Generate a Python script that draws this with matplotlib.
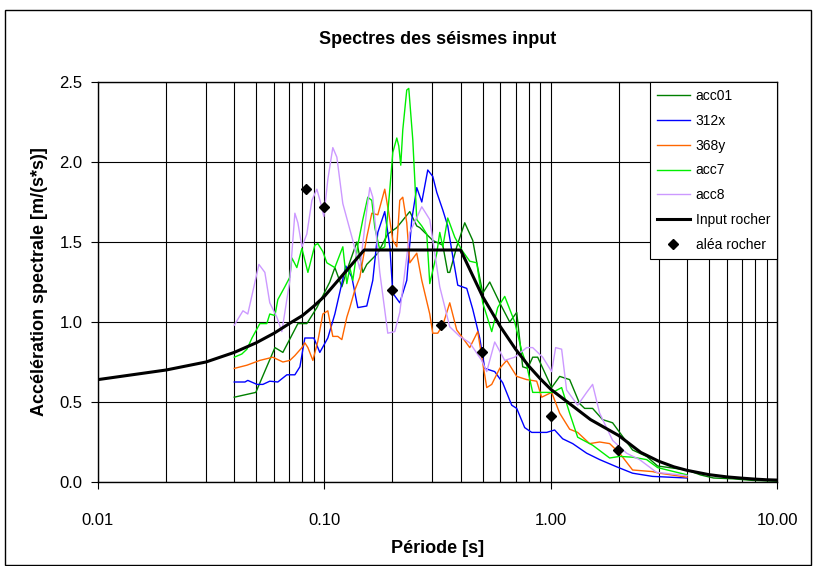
import matplotlib
matplotlib.use("Agg")
import matplotlib.pyplot as plt
from matplotlib.patches import Rectangle
from matplotlib.ticker import FixedLocator, NullFormatter, LogLocator

plt.rcParams['font.family'] = ['Liberation Sans', 'DejaVu Sans']

# acc01 (dark green) - goes out to 10 s
acc01_T = [0.040, 0.0498, 0.0605, 0.0656, 0.0764, 0.0837, 0.0927, 0.1057, 0.1113, 0.1195,
           0.1270, 0.1392, 0.1479, 0.1540, 0.1723, 0.1907, 0.2090, 0.2385, 0.2561, 0.2640,
           0.3013, 0.3337, 0.3510, 0.3582, 0.3846, 0.4172, 0.4526, 0.4761, 0.5010, 0.5380,
           0.5955, 0.6592, 0.7079, 0.7523, 0.7914, 0.8329, 0.8763, 1.010, 1.096, 1.213,
           1.343, 1.413, 1.532, 1.696, 1.878, 2.017, 2.301, 2.654, 2.968, 4.0,
           4.596, 5.244, 6.36, 7.80, 10.0]
acc01_A = [0.53, 0.56, 0.84, 0.81, 0.99, 0.99, 1.09, 1.25, 1.34, 1.22,
           1.34, 1.50, 1.31, 1.36, 1.43, 1.55, 1.59, 1.69, 1.60, 1.59,
           1.51, 1.48, 1.31, 1.31, 1.47, 1.62, 1.51, 1.34, 1.18, 1.25,
           1.12, 1.00, 1.06, 0.72, 0.71, 0.78, 0.78, 0.59, 0.66, 0.64,
           0.49, 0.46, 0.46, 0.39, 0.37, 0.31, 0.20, 0.16, 0.10, 0.075,
           0.044, 0.025, 0.02, 0.01, 0.005]

# 312x (blue)
s312x_T = [0.040, 0.0446, 0.0459, 0.0504, 0.0535, 0.0574, 0.0623, 0.0683, 0.0741, 0.0780,
           0.0820, 0.0899, 0.0955, 0.1036, 0.1113, 0.1244, 0.1323, 0.1392, 0.1406, 0.1540,
           0.1637, 0.1723, 0.1849, 0.1947, 0.2007, 0.2154, 0.2313, 0.2434, 0.2561, 0.2695,
           0.2864, 0.3013, 0.3139, 0.3337, 0.3510, 0.3693, 0.3886, 0.4258, 0.4526, 0.4859,
           0.5113, 0.5660, 0.6140, 0.6728, 0.7079, 0.7677, 0.8245, 0.9601, 1.041, 1.130,
           1.251, 1.442, 1.646, 1.956, 2.301, 2.820, 4.0]
s312x_A = [0.625, 0.625, 0.635, 0.61, 0.61, 0.63, 0.625, 0.67, 0.67, 0.72,
           0.90, 0.90, 0.81, 0.90, 1.05, 1.35, 1.28, 1.12, 1.09, 1.10,
           1.26, 1.56, 1.69, 1.47, 1.18, 1.12, 1.26, 1.64, 1.84, 1.75,
           1.95, 1.91, 1.81, 1.70, 1.60, 1.41, 1.23, 1.21, 1.08, 0.90,
           0.71, 0.69, 0.62, 0.48, 0.46, 0.34, 0.31, 0.31, 0.325, 0.27,
           0.24, 0.18, 0.14, 0.095, 0.055, 0.035, 0.025]

# 368y (orange)
s368y_T = [0.040, 0.0455, 0.0519, 0.0592, 0.0656, 0.0704, 0.0741, 0.0796, 0.0820, 0.0846,
           0.0890, 0.0936, 0.0985, 0.1036, 0.1090, 0.1147, 0.1195, 0.1257, 0.1296, 0.1364,
           0.1435, 0.1540, 0.1621, 0.1723, 0.1849, 0.1927, 0.2007, 0.2090, 0.2154, 0.2221,
           0.2313, 0.2385, 0.2561, 0.2695, 0.2923, 0.3013, 0.3170, 0.3337, 0.3582, 0.3846,
           0.4088, 0.4390, 0.4761, 0.5218, 0.5490, 0.5955, 0.6394, 0.7079, 0.7834, 0.8675,
           0.9127, 1.010, 1.096, 1.213, 1.316, 1.486, 1.646, 1.822, 2.017, 2.301,
           2.820, 3.029, 4.0]
s368y_A = [0.71, 0.73, 0.76, 0.78, 0.75, 0.76, 0.79, 0.84, 0.87, 0.84,
           0.76, 0.88, 1.05, 1.07, 0.91, 0.91, 0.89, 1.03, 1.09, 1.20,
           1.28, 1.53, 1.68, 1.67, 1.83, 1.68, 1.51, 1.47, 1.76, 1.78,
           1.62, 1.37, 1.43, 1.26, 1.05, 0.93, 0.93, 0.98, 1.12, 0.95,
           0.90, 0.84, 0.94, 0.59, 0.61, 0.71, 0.76, 0.66, 0.64, 0.63,
           0.53, 0.56, 0.43, 0.33, 0.31, 0.24, 0.25, 0.24, 0.18, 0.075,
           0.065, 0.055, 0.03]

# acc7 (light green)
acc7_T = [0.040, 0.0432, 0.0455, 0.0479, 0.0519, 0.0557, 0.0574, 0.0605, 0.0623, 0.0669,
          0.0704, 0.0719, 0.0756, 0.0796, 0.0846, 0.0908, 0.0936, 0.0985, 0.1026, 0.1113,
          0.1207, 0.1257, 0.1296, 0.1336, 0.1406, 0.1479, 0.1556, 0.1621, 0.1671, 0.1758,
          0.1849, 0.1947, 0.2007, 0.2090, 0.2133, 0.2176, 0.2221, 0.2313, 0.2361, 0.2459,
          0.2561, 0.2695, 0.2835, 0.2923, 0.3139, 0.3236, 0.3337, 0.3510, 0.3770, 0.4047,
          0.4390, 0.4713, 0.5010, 0.5490, 0.5834, 0.6266, 0.6936, 0.7447, 0.7834, 0.8329,
          0.9601, 1.020, 1.118, 1.213, 1.316, 1.532, 1.822, 2.017, 2.301, 2.654,
          2.968, 4.0]
acc7_A = [0.78, 0.80, 0.83, 0.90, 0.99, 0.99, 1.05, 1.04, 1.14, 1.22,
          1.28, 1.40, 1.34, 1.46, 1.31, 1.48, 1.49, 1.44, 1.37, 1.34,
          1.47, 1.24, 1.34, 1.26, 1.48, 1.64, 1.78, 1.76, 1.59, 1.45,
          1.47, 1.83, 2.06, 2.15, 2.10, 1.98, 2.20, 2.45, 2.46, 2.14,
          1.64, 1.60, 1.55, 1.24, 1.43, 1.56, 1.47, 1.65, 1.53, 1.45,
          1.38, 1.37, 1.12, 0.94, 1.09, 1.16, 1.00, 0.82, 0.73, 0.56,
          0.56, 0.56, 0.59, 0.43, 0.28, 0.23, 0.15, 0.16, 0.155, 0.14,
          0.09, 0.045]

# acc8 (lavender)
acc8_T = [0.040, 0.0437, 0.0459, 0.0514, 0.0546, 0.0574, 0.0617, 0.0649, 0.0704, 0.0741,
          0.0764, 0.0796, 0.0837, 0.0881, 0.0927, 0.0965, 0.0995, 0.1036, 0.1090, 0.1136,
          0.1207, 0.1336, 0.1435, 0.1540, 0.1588, 0.1637, 0.1758, 0.1907, 0.2048, 0.2154,
          0.2385, 0.2695, 0.2923, 0.3236, 0.3582, 0.3965, 0.4390, 0.4959, 0.5218, 0.5660,
          0.6266, 0.6936, 0.7834, 0.8329, 0.9220, 1.010, 1.052, 1.118, 1.176, 1.316,
          1.442, 1.532, 1.646, 1.878, 2.165, 2.471, 2.938, 4.0]
acc8_A = [0.98, 1.07, 1.05, 1.36, 1.31, 1.12, 1.03, 0.94, 1.26, 1.68,
          1.62, 1.47, 1.55, 1.76, 1.83, 1.74, 1.66, 1.89, 2.09, 2.03,
          1.74, 1.51, 1.33, 1.70, 1.84, 1.78, 1.31, 0.93, 0.94, 1.06,
          1.56, 1.72, 1.64, 1.22, 0.97, 0.91, 0.87, 0.76, 0.69, 0.875,
          0.76, 0.78, 0.84, 0.84, 0.78, 0.69, 0.84, 0.83, 0.575, 0.48,
          0.56, 0.61, 0.43, 0.26, 0.18, 0.14, 0.06, 0.04]

# Input rocher (design spectrum)
rock_T = [0.01, 0.02, 0.03, 0.04, 0.05, 0.06, 0.07, 0.08, 0.09, 0.10,
          0.15, 0.40, 0.50, 0.60, 0.70, 0.80, 0.90, 1.0, 1.5, 2.0,
          2.5, 3.0, 3.5, 4.0, 5.0, 6.0, 7.0, 8.0, 9.0, 10.0]
rock_A = [0.64, 0.70, 0.75, 0.81, 0.87, 0.93, 0.99, 1.04, 1.10, 1.16,
          1.45, 1.45, 1.16, 0.97, 0.83, 0.725, 0.645, 0.58, 0.39, 0.29,
          0.185, 0.13, 0.095, 0.073, 0.046, 0.032, 0.024, 0.018, 0.014, 0.012]

# aléa rocher points
alea_T = [0.0834, 0.10, 0.199, 0.329, 0.498, 1.0, 1.98]
alea_A = [1.83, 1.72, 1.20, 0.98, 0.81, 0.41, 0.20]

fig = plt.figure(figsize=(8.16, 5.66), dpi=100)
ax = fig.add_axes([98/816, 1-482/566, (777-98)/816, (482-82)/566])

ax.plot(acc01_T, acc01_A, color='#008000', lw=1.0, label='acc01')
ax.plot(s312x_T, s312x_A, color='#0000FF', lw=1.0, label='312x')
ax.plot(s368y_T, s368y_A, color='#FF6600', lw=1.0, label='368y')
ax.plot(acc7_T, acc7_A, color='#00EE00', lw=1.0, label='acc7')
ax.plot(acc8_T, acc8_A, color='#CC99FF', lw=1.0, label='acc8')
ax.plot(rock_T, rock_A, color='black', lw=2.2, label='Input rocher')
ax.plot(alea_T, alea_A, ls='none', marker='D', ms=5.5, color='black', label='aléa rocher')

ax.set_xscale('log')
ax.set_xlim(0.01, 10)
ax.set_ylim(0, 2.5)
ax.xaxis.set_major_locator(FixedLocator([0.01, 0.1, 1, 10]))
ax.set_xticklabels(['0.01', '0.10', '1.00', '10.00'])
ax.xaxis.set_minor_locator(LogLocator(base=10, subs=range(2, 10)))
ax.xaxis.set_minor_formatter(NullFormatter())
ax.set_yticks([0, 0.5, 1.0, 1.5, 2.0, 2.5])
ax.set_yticklabels(['0.0', '0.5', '1.0', '1.5', '2.0', '2.5'])

ax.grid(True, which='both', axis='x', color='black', lw=0.8)
ax.grid(True, which='major', axis='y', color='black', lw=0.8)
ax.set_axisbelow(True)
ax.tick_params(axis='x', which='major', direction='out', length=5, pad=17, labelsize=12)
ax.tick_params(axis='x', which='minor', length=0)
ax.tick_params(axis='y', direction='out', length=5, pad=6, labelsize=12)
for sp in ax.spines.values():
    sp.set_linewidth(1.0)

ax.set_title('Spectres des séismes input', fontsize=13, fontweight='bold', pad=27)
ax.set_xlabel('Période [s]', fontsize=13, fontweight='bold', labelpad=9)
ax.set_ylabel('Accélération spectrale [m/(s*s)]', fontsize=13, fontweight='bold', labelpad=8)

leg = ax.legend(loc='upper right', borderaxespad=0, fancybox=False, framealpha=1,
                edgecolor='black', fontsize=10, handlelength=2.4, handletextpad=0.4,
                labelspacing=0.78, borderpad=0.5)
leg.get_frame().set_linewidth(0.8)

# outer chart border
fig.patches.append(Rectangle((5/816, 0.002), 806/816, 1-10/566-0.002, transform=fig.transFigure,
                             fill=False, edgecolor='black', lw=1.0))

fig.savefig('out.png', dpi=100)
